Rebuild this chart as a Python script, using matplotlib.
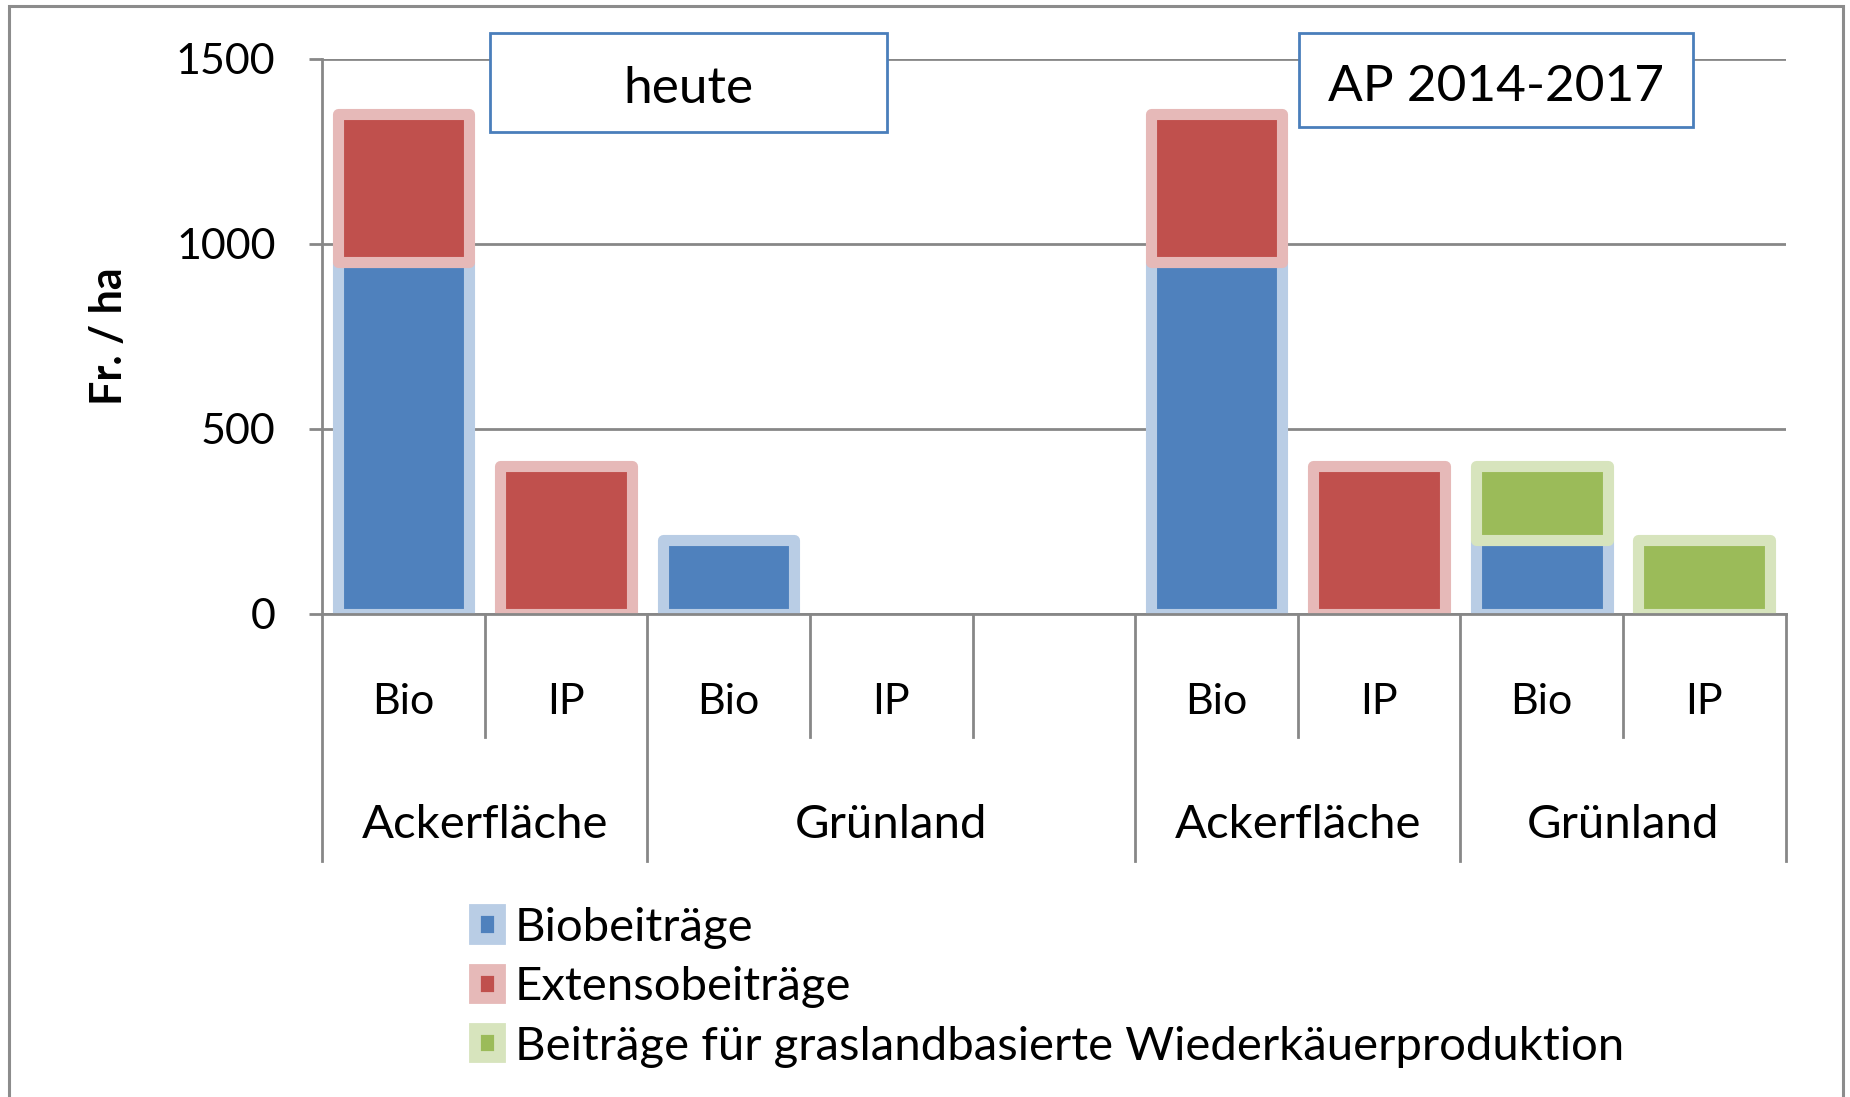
import numpy as np
import matplotlib
matplotlib.use("Agg")
import matplotlib.pyplot as plt
from matplotlib.patches import Rectangle, Patch
from matplotlib.transforms import blended_transform_factory

plt.rcParams['font.family'] = ['Lato', 'DejaVu Sans']

# data (Fr. / ha)
categories = ['Bio', 'IP', 'Bio', 'IP', '', 'Bio', 'IP', 'Bio', 'IP']
groups = ['Ackerfläche', 'Grünland', 'Ackerfläche', 'Grünland']
group_sizes = [2, 3, 2, 2]
periods = ['heute', 'AP 2014-2017']
bio = [950, 0, 200, 0, 0, 950, 0, 200, 0]
extenso = [400, 400, 0, 0, 0, 400, 400, 0, 0]
gmf = [0, 0, 0, 0, 0, 0, 0, 200, 200]
series_names = ['Biobeiträge', 'Extensobeiträge',
                'Beiträge für graslandbasierte Wiederkäuerproduktion']

dark = ['#4F81BD', '#C0504D', '#9BBB59']
light = ['#B9CDE5', '#E6B9B8', '#D7E4BD']
gray = '#878787'

fig = plt.figure(figsize=(18.5, 10.97), dpi=100)
ax = fig.add_axes([0.1741, 0.4407, 0.7911, 0.5056])

x = np.arange(len(categories))
bio_a = np.array(bio)
ext_a = np.array(extenso)
gmf_a = np.array(gmf)
width = 0.81
lw = 8

def draw(vals, bottom, k):
    m = vals > 0
    ax.bar(x[m], vals[m], bottom=bottom[m], width=width, color=dark[k],
           edgecolor=light[k], linewidth=lw, joinstyle='round', zorder=2)

draw(bio_a, np.zeros_like(bio_a), 0)
draw(ext_a, bio_a, 1)
draw(gmf_a, bio_a, 2)

ax.set_xlim(-0.5, len(categories) - 0.5)
ax.set_ylim(0, 1500)
ax.set_yticks([0, 500, 1000, 1500])
ax.yaxis.grid(True, color=gray, linewidth=2)
ax.set_axisbelow(True)
for s in ['top', 'right']:
    ax.spines[s].set_visible(False)
for s in ['left', 'bottom']:
    ax.spines[s].set_color(gray)
    ax.spines[s].set_linewidth(2)
    ax.spines[s].set_zorder(3)
ax.tick_params(axis='y', direction='out', length=9.5, width=2, color=gray,
               labelsize=31, pad=24)
ax.set_xticks([])

# category separators and labels under the axis
tr = blended_transform_factory(ax.transData, ax.transAxes)
long_pos = -0.5 + np.concatenate([[0], np.cumsum(group_sizes)])
for b in np.arange(len(categories) + 1) - 0.5:
    bottom = -0.446 if b in long_pos else -0.2225
    ax.plot([b, b], [0, bottom], transform=tr, color=gray, linewidth=2,
            clip_on=False, zorder=3)
for i, c in enumerate(categories):
    ax.text(i, -0.159, c, transform=tr, ha='center', va='center', fontsize=31)
for g, a, b in zip(groups, long_pos[:-1], long_pos[1:]):
    ax.text((a + b) / 2, -0.382, g, transform=tr, ha='center', va='center',
            fontsize=34)

ax.text(-0.1458, 0.5, 'Fr. / ha', transform=ax.transAxes, rotation=90,
        ha='center', va='center', fontsize=31, fontweight='bold')

# period boxes
boxes = [(0.1148, 0.386, 0.868, 1.047), (0.6676, 0.937, 0.8765, 1.047)]
for label, (x0, x1, y0, y1) in zip(periods, boxes):
    ax.add_patch(Rectangle((x0, y0), x1 - x0, y1 - y0, transform=ax.transAxes,
                           facecolor='white', edgecolor='#4A7EBB', linewidth=2,
                           clip_on=False, zorder=5))
    ax.text((x0 + x1) / 2, (y0 + y1) / 2 - 0.012, label, transform=ax.transAxes,
            ha='center', va='center', fontsize=37, zorder=6)

handles = [Patch(facecolor=dark[k], edgecolor=light[k], linewidth=8.5,
                 joinstyle='round') for k in range(3)]
fig.legend(handles, series_names, loc='upper left',
           bbox_to_anchor=(0.2565, 0.1732), frameon=False, fontsize=34,
           borderpad=0, borderaxespad=0, handlelength=0.55, handleheight=0.55,
           handletextpad=0.3, labelspacing=0.37)

# outer chart frame
fig.add_artist(Rectangle((0.0051, -0.05), 0.9911, 1.0445,
                         transform=fig.transFigure, fill=False,
                         edgecolor='#8C8C8C', linewidth=2.2))

fig.savefig('out.png', dpi=100)
